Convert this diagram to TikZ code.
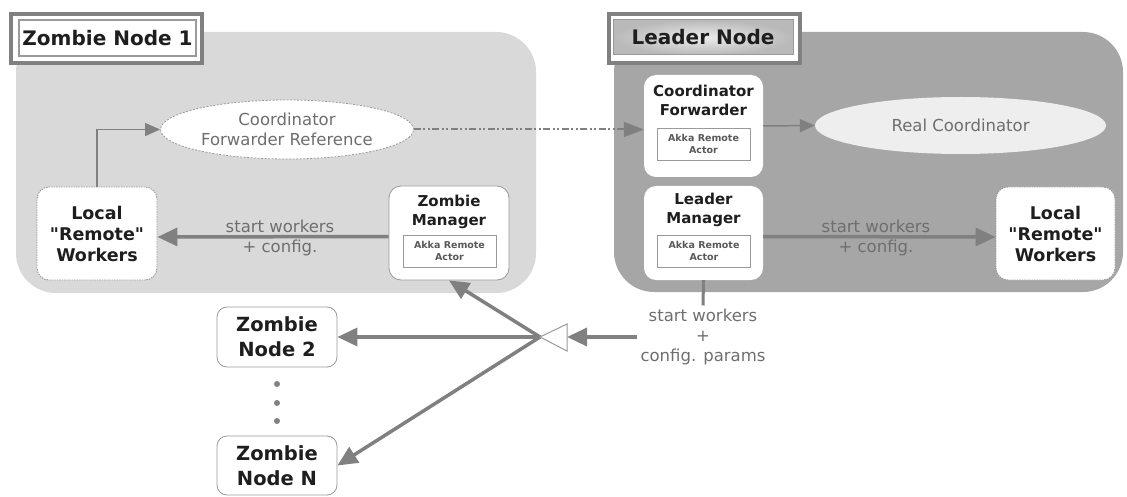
\documentclass[tikz,border=0pt]{standalone}
\usepackage{fontspec}
\setmainfont{DejaVu Sans}[Ligatures=TeXOff]
\usetikzlibrary{arrows.meta,shapes.geometric}
\definecolor{lightbg}{HTML}{D9D9D9}
\definecolor{darkbg}{HTML}{A6A6A6}
\definecolor{arrowc}{HTML}{808080}
\definecolor{labelc}{HTML}{6E6E6E}
\definecolor{boxline}{HTML}{9A9A9A}
\definecolor{titlec}{HTML}{1E1E1E}
\begin{document}
\begin{tikzpicture}[x=1pt,y=-1pt,
  region/.style={rounded corners=40pt},
  wbox/.style={fill=white, rounded corners=12pt, inner sep=0pt},
  wboxline/.style={wbox, draw=boxline, line width=0.8pt},
  dotbox/.style={wbox, draw=boxline, line width=0.9pt, dash pattern=on 1.5pt off 1pt},
  ttl/.style={font=\bfseries\fontsize{15}{19}\selectfont, text=titlec, align=center},
  bigttl/.style={font=\bfseries\fontsize{17.5}{21}\selectfont, text=titlec, align=center},
  nodettl/.style={font=\bfseries\fontsize{19.5}{25}\selectfont, text=titlec, align=center},
  akka/.style={draw=boxline, line width=0.8pt, fill=white, minimum width=93pt, minimum height=32pt, inner sep=0pt, align=center, font=\bfseries\fontsize{9.5}{11.5}\selectfont, text=black!65},
  lbl/.style={font=\fontsize{16.5}{20}\selectfont, text=labelc, align=center},
  bigarr/.style={draw=arrowc, line width=3.5pt, -{Triangle[length=20pt,width=18pt]}},
  thinarr/.style={draw=arrowc, line width=1.5pt, -{Triangle[length=15pt,width=13pt]}},
  dotarr/.style={draw=arrowc, line width=2pt, dash pattern=on 7pt off 2.5pt on 2pt off 2.5pt on 2pt off 2.5pt, -{Triangle[length=20pt,width=15pt]}},
  framebox/.style={draw=arrowc, line width=4pt, fill=white, minimum width=191pt, minimum height=49pt, inner sep=0pt},
  titlefont/.style={font=\bfseries\fontsize{20}{24}\selectfont, text=titlec}
]
\useasboundingbox (0,0) rectangle (1127,497);

% regions
\path[fill=lightbg, region] (16,32) rectangle (536,293);
\path[fill=darkbg, region] (614,32) rectangle (1123,292);

% titles
\node[framebox] (t1o) at (106.5,38.5) {};
\node[draw=boxline, line width=1.8pt, fill=white, minimum width=177pt, minimum height=36pt, inner sep=0pt, titlefont] (t1) at (107.5,38) {Zombie Node 1};
\node[framebox] (t2o) at (704.5,38.5) {};
\node[draw=boxline, line width=1pt, inner color=gray!15, outer color=gray!55, minimum width=180pt, minimum height=35pt, inner sep=0pt, titlefont] (t2) at (703,37.5) {Leader Node};

% ellipses
\node[ellipse, draw=boxline, dash pattern=on 2pt off 1.5pt, line width=0.8pt, fill=white, minimum width=253pt, minimum height=59pt, inner sep=0pt, lbl] (cfr) at (287,129.5) {Coordinator\\Forwarder Reference};
\node[ellipse, fill=gray!13, minimum width=291pt, minimum height=57pt, inner sep=0pt, lbl] (rc) at (960.5,125.5) {Real Coordinator};

% zombie node 1 boxes
\node[dotbox, minimum width=120pt, minimum height=93pt, bigttl] (lw1) at (97,233.5) {Local\\"Remote"\\Workers};
\node[wboxline, minimum width=120pt, minimum height=94pt] (zm) at (449,233) {};
\node[ttl] (zmt) at (449,211.5) {Zombie\\Manager};
\node[akka] (zma) at (449.5,251) {Akka Remote\\Actor};

% leader node boxes
\node[wbox, minimum width=119pt, minimum height=102pt] (cf) at (703.5,126) {};
\node[ttl] (cft) at (703.5,100) {Coordinator\\Forwarder};
\node[akka] (cfa) at (703.5,144) {Akka Remote\\Actor};
\node[wbox, minimum width=119pt, minimum height=94pt] (lm) at (703.5,233) {};
\node[ttl] (lmt) at (703.5,210) {Leader\\Manager};
\node[akka] (lma) at (704,251) {Akka Remote\\Actor};
\node[dotbox, minimum width=119pt, minimum height=93pt, bigttl] (lw2) at (1055.5,233.5) {Local\\"Remote"\\Workers};

% other zombie nodes
\node[wboxline, rounded corners=10pt, minimum width=120pt, minimum height=60pt, nodettl] (zn2) at (277,337) {Zombie\\Node 2};
\node[wboxline, rounded corners=10pt, minimum width=120pt, minimum height=59pt, nodettl] (znn) at (277,465.5) {Zombie\\Node N};
\fill[arrowc] (277,384) circle (3pt);
\fill[arrowc] (277,403) circle (3pt);
\fill[arrowc] (277,421) circle (3pt);

% params and splitter
\node[lbl] (prm) at (703,337) {start workers\\+\\config. params};
\coordinate (apex) at (540,337);
\coordinate (tbase) at (567,337);

% connectors
\draw[thinarr] (lw1.north) |- (cfr.west);
\draw[dotarr] (cfr.east) -- (cfr.east -| cf.west);
\draw[thinarr] (cf.east) -- (rc.west);
\draw[bigarr] ([yshift=-3.5pt]zm.west) -- ([yshift=-3.5pt]lw1.east);
\node[lbl] (l1) at (280,238) {start workers\\+ config.};
\draw[bigarr] ([yshift=-3.5pt]lm.east) -- ([yshift=-3.5pt]lw2.west);
\node[lbl] (l2) at (876,238) {start workers\\+ config.};
\draw[draw=arrowc, line width=3pt] (lm.south) -- (prm.north);
\draw[bigarr] (prm.west) -- (tbase);
\draw[bigarr] (apex) -- (zm.south);
\draw[bigarr] (apex) -- (zn2.east);
\draw[bigarr] (apex) -- (znn.east);
\draw[draw=boxline, fill=white, line width=1pt] (apex) -- (567,324) -- (567,351) -- cycle;
\end{tikzpicture}
\end{document}
